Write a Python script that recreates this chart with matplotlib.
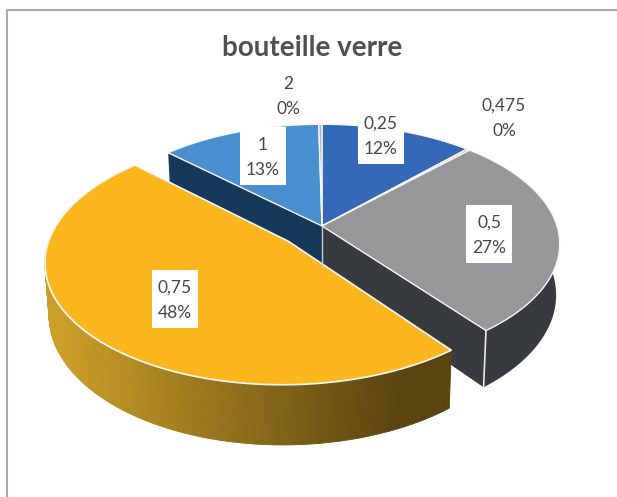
import numpy as np
import matplotlib
matplotlib.use("Agg")
import matplotlib.pyplot as plt
from matplotlib.colors import to_rgb
from matplotlib.patches import Rectangle

categories = ["0,25", "0,475", "0,5", "0,75", "1", "2"]
shares = [12.0, 0.25, 27.2, 47.7, 12.6, 0.25]
percent_labels = ["12%", "0%", "27%", "48%", "13%", "0%"]
top_colors = ["#3569B8", "#E9A27E", "#959798", "#FDB71E", "#4A90D0", "#A9B4C4"]
side_colors = ["#1E3F6E", "#8A4A20", "#383B3E", "#B8922A", "#16395A", "#5A6470"]

# projection of the tilted disc, all in pixels of the 617x497 picture
CX, CY = 322, 226
A, B, K = 235, 117, 0.15
DEPTH = 50
SHRINK = 0.015  # lower face is a little narrower
EXPLODE = {"0,75": 0.19}


def project(u, v, z=0.0):
    w = 1 + K * v
    return CX + A * u / w * (1 - SHRINK * z), CY - B * v / w + z * DEPTH / w


def slice_angles():
    ends = np.cumsum(shares) / np.sum(shares) * 2 * np.pi
    starts = np.concatenate([[0], ends[:-1]])
    return starts, ends


def offset_of(i):
    d = EXPLODE.get(categories[i], 0.0)
    mid = (starts[i] + ends[i]) / 2
    return d * np.sin(mid), d * np.cos(mid)


def top_outline(i):
    ou, ov = offset_of(i)
    t = np.linspace(starts[i], ends[i], 120)
    x, y = project(np.sin(t) + ou, np.cos(t) + ov)
    ax_, ay_ = project(ou, ov)
    return np.r_[ax_, x], np.r_[ay_, y]


def draw_top(i, lw=1.0):
    x, y = top_outline(i)
    ax.fill(x, y, facecolor=top_colors[i], edgecolor="#F4F6F8", linewidth=lw, joinstyle="round")


def draw_rim(i, color):
    ou, ov = offset_of(i)
    t = np.linspace(starts[i], ends[i], 120)
    x1, y1 = project(np.sin(t) + ou, np.cos(t) + ov)
    x2, y2 = project(np.sin(t) + ou, np.cos(t) + ov, 1.0)
    ax.fill(np.r_[x1, x2[::-1]], np.r_[y1, y2[::-1]], color=color, linewidth=0)


def draw_radial(i, theta, color):
    ou, ov = offset_of(i)
    u, v = np.sin(theta) + ou, np.cos(theta) + ov
    x = [project(ou, ov)[0], project(u, v)[0], project(u, v, 1.0)[0], project(ou, ov, 1.0)[0]]
    y = [project(ou, ov)[1], project(u, v)[1], project(u, v, 1.0)[1], project(ou, ov, 1.0)[1]]
    ax.fill(x, y, color=color, linewidth=0)


def draw_gradient_rim(i):
    # lighter on the left, dark brown on the right, like the office bevel
    left, right = np.array(to_rgb("#CB9E28")), np.array(to_rgb("#59430F"))
    ou, ov = offset_of(i)
    t = np.linspace(starts[i], ends[i], 260)
    x1, y1 = project(np.sin(t) + ou, np.cos(t) + ov)
    x2, y2 = project(np.sin(t) + ou, np.cos(t) + ov, 1.0)
    lo, hi = 60, 400
    for j in range(len(t) - 1):
        if np.cos(t[j]) + ov > 0.2:
            continue
        f = np.clip((x1[j] - lo) / (hi - lo), 0, 1)
        c = left + (right - left) * f
        ax.fill([x1[j], x1[j + 1], x2[j + 1], x2[j]], [y1[j], y1[j + 1], y2[j + 1], y2[j]],
                facecolor=c, edgecolor=c, linewidth=0.6)


starts, ends = slice_angles()
idx = {c: n for n, c in enumerate(categories)}

plt.rcParams["font.family"] = ["Lato", "DejaVu Sans"]
fig = plt.figure(figsize=(6.17, 4.97), dpi=100)
ax = fig.add_axes([0, 0, 1, 1])
ax.set_xlim(0, 617)
ax.set_ylim(497, 0)
ax.axis("off")

# frame, only top and left show in the scan
ax.plot([6.5, 6.5, 617], [497, 10, 10], color="#ABABAB", linewidth=1.5)

ax.text(312, 48, "bouteille verre", fontsize=20, fontweight="bold", color="#505050",
        ha="center", va="center")

# faces seen through the gap of the pulled out slice
draw_radial(idx["1"], starts[idx["1"]], side_colors[idx["1"]])
draw_radial(idx["0,5"], ends[idx["0,5"]], side_colors[idx["0,5"]])
draw_rim(idx["0,5"], side_colors[idx["0,5"]])
for c in ["0,25", "0,475", "0,5", "1", "2"]:
    draw_top(idx[c])

# light seams on the side faces
gx, gy = project(np.sin(ends[2]), np.cos(ends[2]))
gx2, gy2 = project(np.sin(ends[2]), np.cos(ends[2]), 1.0)
ax.plot([gx, gx2], [gy, gy2], color="#E6E8EA", linewidth=1.2)
ax.plot([CX, CX], [CY, CY + 40], color="#C8CCD0", linewidth=1.0)

draw_gradient_rim(idx["0,75"])
draw_top(idx["0,75"], lw=1.2)

label_pos = {
    "0,25": (381, 135),
    "0,475": (504, 117),
    "0,5": (489, 234),
    "0,75": (175, 299),
    "1": (263, 156),
    "2": (288, 95),
}
boxed = ["0,25", "0,5", "0,75", "1"]
for i, c in enumerate(categories):
    x, y = label_pos[c]
    if c in boxed:
        ax.add_patch(Rectangle((x - 23, y - 29), 46, 58, facecolor="white", edgecolor="none"))
    ax.text(x, y + 1.5, f"{c}\n{percent_labels[i]}", fontsize=12.5, color="#484848", ha="center", va="center",
            linespacing=1.7)

fig.savefig("out.png", dpi=100)
